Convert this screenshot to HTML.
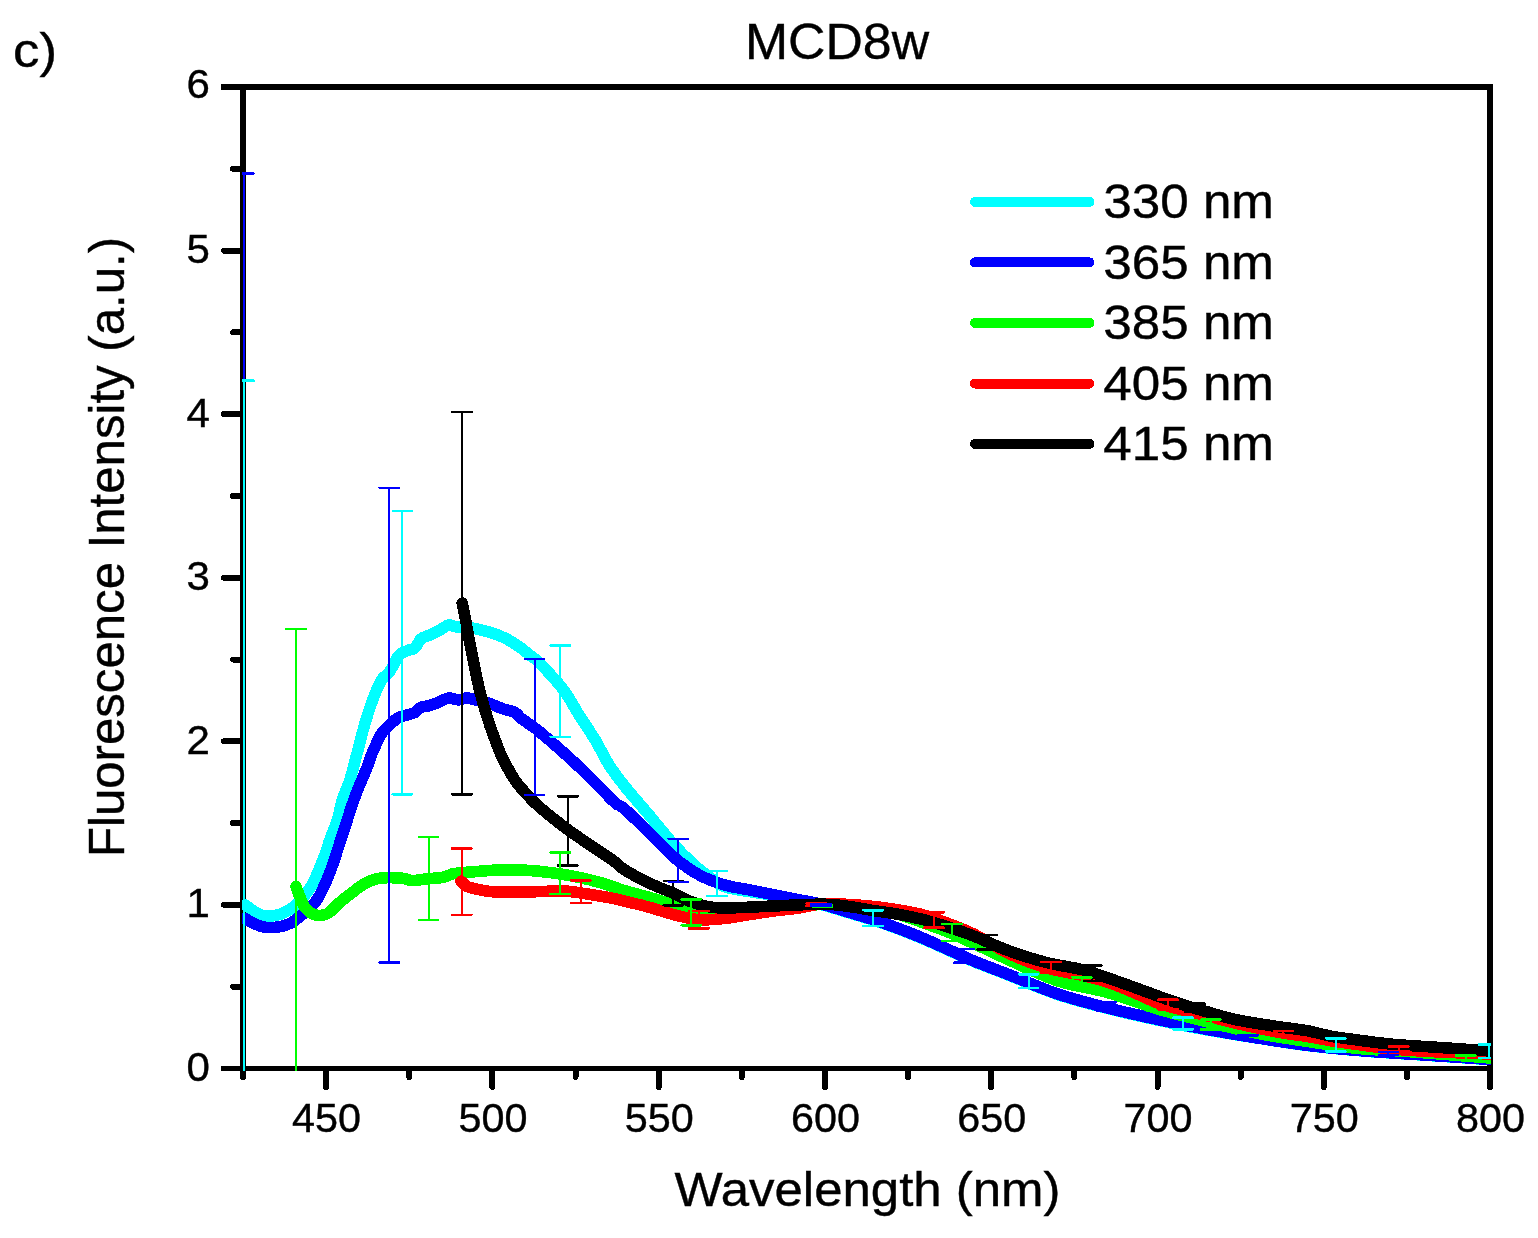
<!DOCTYPE html><html><head><meta charset="utf-8"><title>MCD8w</title><style>html,body{margin:0;padding:0;background:#fff}svg{display:block}text{font-family:"Liberation Sans",Arial,sans-serif;fill:#000}</style></head><body>
<svg width="1538" height="1238" viewBox="0 0 1538 1238" shape-rendering="crispEdges">
<rect width="1538" height="1238" fill="#fff"/>
<defs><clipPath id="cp"><rect x="242" y="87" width="1249" height="984"/></clipPath></defs>
<g stroke="#000" stroke-width="6" fill="none">
<line x1="221" y1="87" x2="1493" y2="87"/>
<line x1="243" y1="84" x2="243" y2="1071"/>
<line x1="1490" y1="84" x2="1490" y2="1071"/>
</g>
<line x1="221" y1="1068.4" x2="1493" y2="1068.4" stroke="#000" stroke-width="5"/>
<g stroke="#000" stroke-width="6" stroke-linecap="round" fill="none">
<line x1="224" y1="904.8" x2="243" y2="904.8"/>
<line x1="224" y1="741.3" x2="243" y2="741.3"/>
<line x1="224" y1="577.7" x2="243" y2="577.7"/>
<line x1="224" y1="414.1" x2="243" y2="414.1"/>
<line x1="224" y1="250.6" x2="243" y2="250.6"/>
<line x1="233" y1="986.6" x2="243" y2="986.6"/>
<line x1="233" y1="823.1" x2="243" y2="823.1"/>
<line x1="233" y1="659.5" x2="243" y2="659.5"/>
<line x1="233" y1="495.9" x2="243" y2="495.9"/>
<line x1="233" y1="332.4" x2="243" y2="332.4"/>
<line x1="233" y1="168.8" x2="243" y2="168.8"/>
<line x1="326.1" y1="1069" x2="326.1" y2="1087"/>
<line x1="492.4" y1="1069" x2="492.4" y2="1087"/>
<line x1="658.7" y1="1069" x2="658.7" y2="1087"/>
<line x1="824.9" y1="1069" x2="824.9" y2="1087"/>
<line x1="991.2" y1="1069" x2="991.2" y2="1087"/>
<line x1="1157.5" y1="1069" x2="1157.5" y2="1087"/>
<line x1="1323.7" y1="1069" x2="1323.7" y2="1087"/>
<line x1="1490.0" y1="1069" x2="1490.0" y2="1087"/>
<line x1="243.0" y1="1069" x2="243.0" y2="1077"/>
<line x1="409.3" y1="1069" x2="409.3" y2="1077"/>
<line x1="575.5" y1="1069" x2="575.5" y2="1077"/>
<line x1="741.8" y1="1069" x2="741.8" y2="1077"/>
<line x1="908.1" y1="1069" x2="908.1" y2="1077"/>
<line x1="1074.3" y1="1069" x2="1074.3" y2="1077"/>
<line x1="1240.6" y1="1069" x2="1240.6" y2="1077"/>
<line x1="1406.9" y1="1069" x2="1406.9" y2="1077"/>
</g>
<g clip-path="url(#cp)" fill="none" stroke-width="11.6" stroke-linecap="round" stroke-linejoin="round">
<path stroke="#00ffff" d="M245.0 904.8C246.7 906.0 251.7 910.1 255.0 912.0C258.3 913.9 261.7 915.4 265.0 916.0C268.3 916.6 271.7 916.1 275.0 915.5C278.3 914.9 281.3 914.3 285.0 912.3C288.7 910.3 292.9 908.2 297.4 903.6C301.9 899.0 307.4 893.0 312.0 884.9C316.6 876.8 321.9 862.4 324.9 854.9C327.9 847.4 327.8 845.5 329.9 839.7C332.0 833.9 335.3 826.7 337.4 820.0C339.5 813.3 340.3 806.4 342.4 799.7C344.5 793.0 347.5 787.6 349.9 780.0C352.3 772.4 354.4 763.2 356.9 754.0C359.3 744.8 362.0 733.8 364.6 724.8C367.2 715.8 369.9 707.3 372.7 699.9C375.5 692.5 378.3 685.3 381.2 680.5C384.1 675.7 387.0 675.4 389.9 671.2C392.8 667.1 395.8 659.0 398.7 655.6C401.6 652.2 404.7 651.9 407.4 650.6C410.1 649.3 412.6 650.0 414.9 648.0C417.2 646.0 418.6 640.9 421.1 638.7C423.6 636.5 426.8 636.5 429.9 635.0C433.0 633.5 436.8 631.7 439.9 630.0C443.0 628.3 445.9 625.5 448.6 625.0C451.3 624.5 452.2 626.3 456.1 626.8C460.1 627.3 467.7 627.5 472.3 628.1C476.9 628.7 479.6 629.6 483.6 630.6C487.6 631.6 492.0 632.7 496.1 634.3C500.2 635.9 504.4 637.7 508.5 640.0C512.6 642.3 517.1 645.3 521.0 648.1C524.9 650.9 528.9 654.3 532.0 656.8C535.1 659.3 534.4 657.5 539.6 663.0C544.9 668.5 556.9 681.2 563.5 689.9C570.1 698.5 573.7 706.6 579.0 714.9C584.3 723.2 590.2 731.6 595.2 739.9C600.2 748.2 604.1 757.1 609.0 764.8C613.9 772.5 617.8 777.6 624.5 786.0C631.2 794.4 640.8 805.1 649.0 814.9C657.2 824.7 666.5 836.5 674.0 844.8C681.5 853.1 688.6 859.8 694.0 864.8C699.4 869.8 701.4 871.2 706.4 874.8C711.4 878.4 716.8 883.7 723.9 886.5C731.0 889.3 740.5 890.0 748.8 891.5C757.1 893.0 765.5 893.9 773.8 895.4C782.1 896.9 790.5 898.8 798.8 900.4C807.1 902.0 815.5 903.2 823.8 905.3C832.1 907.4 840.4 910.3 848.7 912.8C857.0 915.3 865.4 917.6 873.7 920.3C882.0 923.0 890.4 926.0 898.7 929.1C907.0 932.2 915.3 935.6 923.6 939.1C931.9 942.6 940.3 946.6 948.6 950.3C956.9 954.0 963.7 957.4 973.6 961.5C983.5 965.6 994.0 969.4 1008.0 974.9C1022.0 980.4 1041.2 989.0 1057.9 994.6C1074.6 1000.2 1091.2 1004.4 1107.9 1008.6C1124.6 1012.9 1141.2 1016.5 1157.8 1020.1C1174.4 1023.7 1191.1 1027.1 1207.8 1030.1C1224.5 1033.1 1241.1 1035.6 1257.7 1038.2C1274.3 1040.8 1290.9 1043.5 1307.6 1045.6C1324.2 1047.7 1343.5 1049.4 1357.6 1050.6C1371.7 1051.9 1378.3 1052.2 1392.0 1053.1C1405.7 1054.0 1423.7 1055.1 1440.0 1056.2C1456.3 1057.3 1481.7 1059.1 1490.0 1059.7"/>
<path stroke="#0000ff" d="M245.0 918.6C246.7 919.5 251.7 922.5 255.0 924.0C258.3 925.5 261.2 926.8 265.0 927.3C268.8 927.8 273.8 927.6 278.0 927.0C282.2 926.4 285.9 925.6 290.0 923.5C294.1 921.4 297.9 918.4 302.4 914.5C306.9 910.6 312.3 906.9 316.9 899.9C321.5 892.9 325.6 883.2 329.9 872.4C334.1 861.6 338.2 847.6 342.4 835.0C346.6 822.4 350.8 808.2 354.9 797.0C359.0 785.8 364.0 775.2 366.8 768.0C369.6 760.8 369.4 759.6 371.8 754.0C374.2 748.4 378.2 739.1 381.2 734.2C384.2 729.3 387.0 727.6 389.9 724.8C392.8 722.0 395.8 719.0 398.7 717.4C401.6 715.8 404.7 715.7 407.4 714.9C410.1 714.1 412.6 713.6 414.9 712.4C417.2 711.1 418.6 708.5 421.1 707.4C423.6 706.2 426.8 706.5 429.9 705.5C433.0 704.5 436.8 703.0 439.9 701.7C443.0 700.5 445.5 698.3 448.6 698.0C451.7 697.7 455.5 699.9 458.6 699.9C461.7 699.9 464.2 697.9 467.3 698.0C470.4 698.1 473.6 699.6 477.3 700.5C481.1 701.4 485.6 702.2 489.8 703.6C494.0 705.0 498.1 707.1 502.3 708.6C506.5 710.1 511.7 710.8 514.8 712.4C517.9 714.0 518.1 715.9 521.0 718.2C523.9 720.5 528.9 723.7 532.0 726.0C535.1 728.3 534.2 727.2 539.6 731.8C545.0 736.4 556.3 746.0 564.6 753.5C572.9 761.0 581.3 768.9 589.6 777.0C597.9 785.1 608.8 797.0 614.5 802.2C620.2 807.5 618.2 803.5 624.0 808.5C629.8 813.5 640.7 824.4 649.0 832.5C657.3 840.6 665.7 850.2 674.0 857.3C682.3 864.3 690.7 870.2 699.0 874.8C707.3 879.4 715.6 882.3 723.9 884.8C732.2 887.3 740.5 888.1 748.8 889.8C757.1 891.5 765.5 893.1 773.8 894.8C782.1 896.5 790.5 898.1 798.8 899.8C807.1 901.4 815.5 902.6 823.8 904.7C832.1 906.8 840.4 909.7 848.7 912.2C857.0 914.7 865.4 917.0 873.7 919.7C882.0 922.4 890.4 925.4 898.7 928.5C907.0 931.6 915.3 935.0 923.6 938.5C931.9 942.0 940.3 946.0 948.6 949.7C956.9 953.4 963.7 956.8 973.6 960.9C983.5 965.0 994.0 968.8 1008.0 974.3C1022.0 979.8 1041.2 988.4 1057.9 994.0C1074.6 999.6 1091.2 1003.8 1107.9 1008.0C1124.6 1012.2 1141.2 1015.9 1157.8 1019.5C1174.4 1023.1 1191.1 1026.4 1207.8 1029.5C1224.5 1032.6 1241.1 1035.3 1257.7 1038.0C1274.3 1040.7 1290.9 1043.3 1307.6 1045.4C1324.2 1047.5 1343.5 1049.2 1357.6 1050.4C1371.7 1051.7 1378.3 1052.0 1392.0 1052.9C1405.7 1053.8 1423.7 1054.9 1440.0 1056.0C1456.3 1057.1 1481.7 1058.9 1490.0 1059.5"/>
<path stroke="#00ff00" d="M296.0 886.5C296.6 888.1 298.0 892.5 299.5 896.0C301.0 899.5 302.3 904.2 304.9 907.3C307.5 910.4 311.1 913.8 314.9 914.8C318.6 915.8 323.2 915.7 327.4 913.6C331.6 911.5 335.7 905.8 339.9 902.3C344.1 898.8 348.2 895.5 352.4 892.4C356.5 889.3 360.2 886.0 364.8 883.6C369.4 881.2 373.6 879.1 379.8 878.2C386.1 877.3 396.9 877.8 402.3 878.2C407.7 878.6 408.1 880.5 412.3 880.6C416.5 880.7 422.7 879.3 427.3 878.8C431.9 878.3 436.7 878.2 439.8 877.8C442.9 877.4 443.9 877.1 446.0 876.5C448.1 875.9 449.7 874.6 452.2 874.0C454.7 873.4 456.8 873.2 461.0 872.8C465.2 872.4 470.3 872.0 477.2 871.5C484.1 871.0 493.9 870.0 502.2 869.8C510.5 869.6 518.8 869.8 527.1 870.3C535.4 870.8 543.8 871.7 552.1 872.8C560.4 873.9 568.8 875.3 577.1 877.0C585.4 878.7 594.2 880.8 602.0 883.0C609.8 885.2 616.2 888.1 624.0 890.5C631.8 892.9 640.7 894.9 649.0 897.3C657.3 899.7 665.7 902.2 674.0 904.7C682.3 907.2 690.7 910.7 699.0 912.2C707.3 913.8 715.7 914.0 724.0 914.0C732.3 914.0 740.7 912.8 749.0 912.0C757.3 911.2 765.7 910.0 774.0 909.0C782.3 908.0 790.7 906.8 799.0 906.0C807.3 905.2 815.7 904.6 824.0 904.5C832.3 904.4 840.7 904.8 849.0 905.5C857.3 906.2 865.7 907.5 874.0 909.0C882.3 910.5 890.7 912.2 899.0 914.5C907.3 916.8 915.7 920.0 924.0 923.0C932.3 926.0 940.3 928.8 948.6 932.2C956.9 935.6 963.7 938.9 973.6 943.4C983.5 947.9 993.9 953.2 1008.0 959.5C1022.1 965.8 1041.3 975.5 1058.0 981.0C1074.7 986.5 1091.3 987.9 1107.9 992.6C1124.5 997.3 1141.2 1004.1 1157.8 1009.0C1174.4 1013.9 1191.1 1017.9 1207.8 1022.0C1224.5 1026.1 1241.1 1030.2 1257.7 1033.4C1274.3 1036.7 1290.9 1039.0 1307.6 1041.5C1324.2 1044.0 1342.2 1046.8 1357.6 1048.4C1373.0 1050.0 1386.3 1050.1 1400.0 1051.0C1413.7 1051.9 1425.0 1052.8 1440.0 1054.0C1455.0 1055.2 1481.7 1057.3 1490.0 1058.0"/>
<path stroke="#ff0000" d="M461.0 881.1C461.7 881.8 463.6 884.0 465.0 885.0C466.4 886.0 465.6 886.3 469.7 887.4C473.8 888.5 482.2 890.7 489.7 891.5C497.2 892.3 506.4 892.2 514.7 892.2C523.0 892.2 531.3 891.8 539.6 891.6C547.9 891.4 556.3 890.5 564.6 891.0C572.9 891.5 581.3 893.1 589.6 894.4C597.9 895.7 608.8 897.5 614.5 898.6C620.2 899.7 618.2 899.6 624.0 901.0C629.8 902.4 640.7 904.9 649.0 907.2C657.3 909.5 665.7 912.6 674.0 914.7C682.3 916.8 690.7 919.1 699.0 919.7C707.3 920.3 715.6 919.3 723.9 918.5C732.2 917.7 740.5 916.0 748.8 914.7C757.1 913.5 765.5 912.1 773.8 911.0C782.1 909.9 790.5 909.2 798.8 908.0C807.1 906.8 815.5 904.1 823.8 903.5C832.1 902.9 840.4 904.0 848.7 904.5C857.0 905.0 865.4 905.6 873.7 906.5C882.0 907.4 890.4 908.6 898.7 910.0C907.0 911.4 915.3 912.7 923.6 915.0C931.9 917.3 940.3 920.5 948.6 923.7C956.9 926.9 963.7 929.1 973.6 934.0C983.5 938.9 996.1 947.4 1008.0 953.0C1019.9 958.6 1032.5 963.8 1045.0 967.5C1057.5 971.2 1072.5 973.0 1083.0 975.5C1093.5 978.0 1099.6 979.5 1107.9 982.3C1116.2 985.0 1124.5 988.5 1132.8 992.0C1141.1 995.5 1149.5 1000.0 1157.8 1003.0C1166.1 1006.0 1174.5 1007.8 1182.8 1010.0C1191.1 1012.2 1199.5 1013.9 1207.8 1016.0C1216.1 1018.1 1224.4 1020.5 1232.7 1022.5C1241.0 1024.5 1249.4 1026.2 1257.7 1028.0C1266.0 1029.8 1274.4 1031.6 1282.7 1033.0C1291.0 1034.4 1299.3 1035.2 1307.6 1036.5C1315.9 1037.8 1324.3 1039.7 1332.6 1041.0C1340.9 1042.3 1347.7 1043.2 1357.6 1044.5C1367.5 1045.8 1378.3 1047.8 1392.0 1049.0C1405.7 1050.2 1423.7 1051.2 1440.0 1052.0C1456.3 1052.8 1481.7 1053.7 1490.0 1054.0"/>
<path stroke="#000000" d="M462.2 603.0C462.8 606.2 464.8 615.4 466.0 622.0C467.2 628.6 467.8 632.8 469.7 642.4C471.6 652.0 475.0 669.8 477.2 679.9C479.4 690.0 480.9 695.5 483.0 703.0C485.1 710.5 487.5 718.3 489.7 724.8C491.9 731.3 493.9 736.6 496.0 742.0C498.1 747.4 499.1 751.0 502.2 757.3C505.3 763.6 510.6 773.6 514.7 779.8C518.9 786.0 523.0 790.1 527.1 794.7C531.2 799.3 533.4 801.8 539.6 807.2C545.9 812.6 556.3 821.0 564.6 827.2C572.9 833.5 581.3 839.0 589.6 844.7C597.9 850.4 608.8 857.4 614.5 861.5C620.2 865.6 618.2 865.9 624.0 869.5C629.8 873.1 640.7 879.0 649.0 883.0C657.3 887.0 667.3 890.5 674.0 893.5C680.7 896.5 682.8 898.7 689.0 901.0C695.2 903.3 703.5 906.1 711.4 907.2C719.3 908.3 726.0 907.9 736.4 907.7C746.8 907.5 759.2 906.6 773.8 906.0C788.4 905.4 811.3 904.1 823.8 904.2C836.3 904.3 840.4 905.3 848.7 906.4C857.0 907.5 866.2 909.4 873.7 910.6C881.2 911.8 885.4 912.0 893.7 913.5C902.0 915.0 914.5 917.4 923.6 919.7C932.8 922.0 940.3 924.5 948.6 927.2C956.9 929.9 963.7 932.1 973.6 936.0C983.5 939.9 996.0 946.1 1008.0 950.5C1020.0 954.9 1033.0 959.1 1045.5 962.3C1058.0 965.5 1072.5 967.2 1082.9 969.8C1093.3 972.4 1099.6 975.2 1107.9 978.0C1116.2 980.8 1124.5 983.8 1132.8 986.8C1141.1 989.8 1149.5 993.0 1157.8 996.0C1166.1 999.0 1174.5 1002.0 1182.8 1004.7C1191.1 1007.4 1199.5 1009.6 1207.8 1012.0C1216.1 1014.4 1224.4 1017.1 1232.7 1019.0C1241.0 1020.9 1249.4 1022.1 1257.7 1023.5C1266.0 1024.9 1274.4 1026.1 1282.7 1027.3C1291.0 1028.5 1299.3 1029.3 1307.6 1030.8C1315.9 1032.3 1324.3 1035.0 1332.6 1036.5C1340.9 1038.0 1347.7 1038.7 1357.6 1040.0C1367.5 1041.3 1378.3 1043.0 1392.0 1044.2C1405.7 1045.5 1423.7 1046.4 1440.0 1047.5C1456.3 1048.6 1481.7 1050.4 1490.0 1051.0"/>
</g>
<g clip-path="url(#cp)" fill="none">
<path stroke="#000000" stroke-width="2" d="M461.9 411.9V794.2M567.8 796.2V865.6M673.4 881.0V905.2M987.3 935.0V949.7M1091.6 965.3V981.0M1195.3 1003.7V1012.0"/>
<path stroke="#000000" stroke-width="2.6" stroke-linecap="round" d="M452.2 411.9h19.4M452.2 794.2h19.4M558.1 796.2h19.4M558.1 865.6h19.4M663.7 881.0h19.4M663.7 905.2h19.4M977.6 935.0h19.4M977.6 949.7h19.4M1081.9 965.3h19.4M1081.9 981.0h19.4M1185.6 1003.7h19.4M1185.6 1012.0h19.4"/>
<path stroke="#ff0000" stroke-width="2" d="M461.7 848.4V914.8M580.8 880.4V902.8M698.9 911.0V928.5M816.2 903.5V906.0M934.1 912.2V927.7M1050.9 961.8V973.0M1167.8 999.7V1009.2M1283.4 1030.9V1036.0M1398.7 1046.5V1051.0"/>
<path stroke="#ff0000" stroke-width="2.6" stroke-linecap="round" d="M452.0 848.4h19.4M452.0 914.8h19.4M571.1 880.4h19.4M571.1 902.8h19.4M689.2 911.0h19.4M689.2 928.5h19.4M806.5 903.5h19.4M806.5 906.0h19.4M924.4 912.2h19.4M924.4 927.7h19.4M1041.2 961.8h19.4M1041.2 973.0h19.4M1158.1 999.7h19.4M1158.1 1009.2h19.4M1273.7 1030.9h19.4M1273.7 1036.0h19.4M1389.0 1046.5h19.4M1389.0 1051.0h19.4"/>
<path stroke="#00ff00" stroke-width="2" d="M296.0 628.9V1100.0M428.5 836.9V919.8M560.3 852.4V894.1M691.4 899.3V925.2M822.4 905.0V906.5M951.8 924.0V941.0M1081.7 977.3V989.3M1210.7 1019.7V1029.5M1465.8 1055.5V1060.0"/>
<path stroke="#00ff00" stroke-width="2.6" stroke-linecap="round" d="M286.3 628.9h19.4M286.3 1100.0h19.4M418.8 836.9h19.4M418.8 919.8h19.4M550.6 852.4h19.4M550.6 894.1h19.4M681.7 899.3h19.4M681.7 925.2h19.4M812.7 905.0h19.4M812.7 906.5h19.4M942.1 924.0h19.4M942.1 941.0h19.4M1072.0 977.3h19.4M1072.0 989.3h19.4M1201.0 1019.7h19.4M1201.0 1029.5h19.4M1456.1 1055.5h19.4M1456.1 1060.0h19.4"/>
<path stroke="#0000ff" stroke-width="2" d="M243.8 173.5V1100.0M389.4 487.8V962.5M534.6 658.9V795.0M678.4 838.8V881.8M821.0 904.3V905.6M964.0 949.0V962.7M1106.6 1002.2V1011.0M1248.2 1035.2V1040.0M1388.4 1052.0V1055.0"/>
<path stroke="#0000ff" stroke-width="2.6" stroke-linecap="round" d="M234.1 173.5h19.4M234.1 1100.0h19.4M379.7 487.8h19.4M379.7 962.5h19.4M524.9 658.9h19.4M524.9 795.0h19.4M668.7 838.8h19.4M668.7 881.8h19.4M811.3 904.3h19.4M811.3 905.6h19.4M954.3 949.0h19.4M954.3 962.7h19.4M1096.9 1002.2h19.4M1096.9 1011.0h19.4M1238.5 1035.2h19.4M1238.5 1040.0h19.4M1378.7 1052.0h19.4M1378.7 1055.0h19.4"/>
<path stroke="#00ffff" stroke-width="2" d="M243.8 380.7V1100.0M402.4 511.0V794.2M560.3 645.4V736.8M716.9 871.0V896.0M873.2 910.2V926.0M1028.5 974.3V987.8M1182.8 1017.7V1029.2M1335.8 1038.4V1051.4M1489.0 1044.5V1058.0"/>
<path stroke="#00ffff" stroke-width="2.6" stroke-linecap="round" d="M234.1 380.7h19.4M234.1 1100.0h19.4M392.7 511.0h19.4M392.7 794.2h19.4M550.6 645.4h19.4M550.6 736.8h19.4M707.2 871.0h19.4M707.2 896.0h19.4M863.5 910.2h19.4M863.5 926.0h19.4M1018.8 974.3h19.4M1018.8 987.8h19.4M1173.1 1017.7h19.4M1173.1 1029.2h19.4M1326.1 1038.4h19.4M1326.1 1051.4h19.4M1479.3 1044.5h19.4M1479.3 1058.0h19.4"/>
</g>
<g font-size="41" stroke="#000" stroke-width="0.4">
<text x="209.8" y="1081.1" text-anchor="end" textLength="23.4" lengthAdjust="spacingAndGlyphs">0</text>
<text x="209.8" y="916.9" text-anchor="end" textLength="23.4" lengthAdjust="spacingAndGlyphs">1</text>
<text x="209.8" y="754.0" text-anchor="end" textLength="23.4" lengthAdjust="spacingAndGlyphs">2</text>
<text x="209.8" y="590.4" text-anchor="end" textLength="23.4" lengthAdjust="spacingAndGlyphs">3</text>
<text x="209.8" y="426.8" text-anchor="end" textLength="23.4" lengthAdjust="spacingAndGlyphs">4</text>
<text x="209.8" y="263.3" text-anchor="end" textLength="23.4" lengthAdjust="spacingAndGlyphs">5</text>
<text x="209.8" y="98.4" text-anchor="end" textLength="23.4" lengthAdjust="spacingAndGlyphs">6</text>
<text x="326.6" y="1132" text-anchor="middle" textLength="69" lengthAdjust="spacingAndGlyphs">450</text>
<text x="492.9" y="1132" text-anchor="middle" textLength="69" lengthAdjust="spacingAndGlyphs">500</text>
<text x="659.2" y="1132" text-anchor="middle" textLength="69" lengthAdjust="spacingAndGlyphs">550</text>
<text x="825.4" y="1132" text-anchor="middle" textLength="69" lengthAdjust="spacingAndGlyphs">600</text>
<text x="991.7" y="1132" text-anchor="middle" textLength="69" lengthAdjust="spacingAndGlyphs">650</text>
<text x="1158.0" y="1132" text-anchor="middle" textLength="69" lengthAdjust="spacingAndGlyphs">700</text>
<text x="1324.2" y="1132" text-anchor="middle" textLength="69" lengthAdjust="spacingAndGlyphs">750</text>
<text x="1490.5" y="1132" text-anchor="middle" textLength="69" lengthAdjust="spacingAndGlyphs">800</text>
</g>
<text x="745" y="59" font-size="49.8" stroke="#000" stroke-width="0.4" textLength="184" lengthAdjust="spacingAndGlyphs">MCD8w</text>
<text x="13" y="67" font-size="49" stroke="#000" stroke-width="0.4" textLength="44" lengthAdjust="spacingAndGlyphs">c)</text>
<text x="674.5" y="1206.4" font-size="48.6" stroke="#000" stroke-width="0.4" textLength="386" lengthAdjust="spacingAndGlyphs">Wavelength (nm)</text>
<text transform="translate(124.3,857) rotate(-90)" font-size="49.5" stroke="#000" stroke-width="0.4" textLength="620" lengthAdjust="spacingAndGlyphs">Fluorescence Intensity (a.u.)</text>
<g stroke-width="10" stroke-linecap="round">
<line x1="975" y1="201.9" x2="1089.5" y2="201.9" stroke="#00ffff"/>
<line x1="975" y1="262.4" x2="1089.5" y2="262.4" stroke="#0000ff"/>
<line x1="975" y1="322.8" x2="1089.5" y2="322.8" stroke="#00ff00"/>
<line x1="975" y1="383.6" x2="1089.5" y2="383.6" stroke="#ff0000"/>
<line x1="975" y1="443.8" x2="1089.5" y2="443.8" stroke="#000000"/>
</g>
<g font-size="48.5" stroke="#000" stroke-width="0.4">
<text x="1103.3" y="218.4" textLength="170.7" lengthAdjust="spacingAndGlyphs">330 nm</text>
<text x="1103.3" y="278.9" textLength="170.7" lengthAdjust="spacingAndGlyphs">365 nm</text>
<text x="1103.3" y="339.3" textLength="170.7" lengthAdjust="spacingAndGlyphs">385 nm</text>
<text x="1103.3" y="400.1" textLength="170.7" lengthAdjust="spacingAndGlyphs">405 nm</text>
<text x="1103.3" y="460.3" textLength="170.7" lengthAdjust="spacingAndGlyphs">415 nm</text>
</g>
</svg></body></html>
